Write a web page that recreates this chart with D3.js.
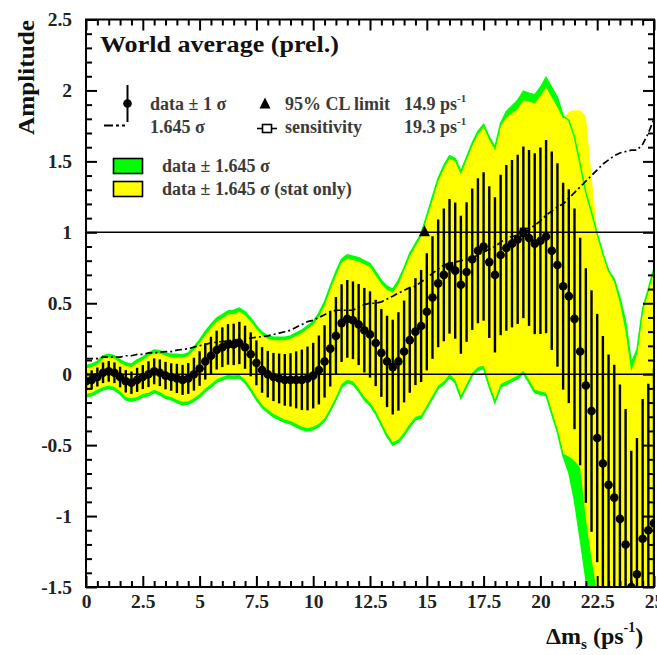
<!DOCTYPE html>
<html>
<head>
<meta charset="utf-8">
<script src="https://cdn.jsdelivr.net/npm/d3@7"></script>
<style>
  html, body { margin: 0; padding: 0; background: #fff; }
  svg { display: block; }
  text { font-family: "Liberation Serif", "Times New Roman", serif; }
</style>
</head>
<body>
<script>
// Oscillation frequency scan points (ps^-1)
const deltaMs = [
  0, 0.25, 0.5, 0.75, 1, 1.25, 1.5, 1.75, 2, 2.25, 2.5, 2.75,
  3, 3.25, 3.5, 3.75, 4, 4.25, 4.5, 4.75, 5, 5.25, 5.5, 5.75,
  6, 6.25, 6.5, 6.75, 7, 7.25, 7.5, 7.75, 8, 8.25, 8.5, 8.75,
  9, 9.25, 9.5, 9.75, 10, 10.25, 10.5, 10.75, 11, 11.25, 11.5, 11.75,
  12, 12.25, 12.5, 12.75, 13, 13.25, 13.5, 13.75, 14, 14.25, 14.5, 14.75,
  15, 15.25, 15.5, 15.75, 16, 16.25, 16.5, 16.75, 17, 17.25, 17.5, 17.75,
  18, 18.25, 18.5, 18.75, 19, 19.25, 19.5, 19.75, 20, 20.25, 20.5, 20.75,
  21, 21.25, 21.5, 21.75, 22, 22.25, 22.5, 22.75, 23, 23.25, 23.5, 23.75,
  24, 24.25, 24.5, 24.75, 25
];

// Measured amplitude at each frequency
const amplitude = [
  -0.05, -0.04, -0.02, 0.01, 0.02, 0.01, -0.02, -0.05,
  -0.06, -0.04, -0.02, 0.00, 0.02, 0.01, -0.01, -0.02,
  -0.03, -0.04, -0.03, 0.00, 0.04, 0.09, 0.13, 0.17,
  0.19, 0.21, 0.21, 0.22, 0.19, 0.14, 0.08, 0.03,
  0.00, -0.02, -0.03, -0.04, -0.04, -0.04, -0.04, -0.03,
  -0.01, 0.03, 0.09, 0.18, 0.27, 0.36, 0.39, 0.38,
  0.35, 0.31, 0.28, 0.22, 0.15, 0.09, 0.05, 0.09,
  0.16, 0.24, 0.30, 0.34, 0.44, 0.54, 0.64, 0.70,
  0.76, 0.73, 0.63, 0.72, 0.81, 0.87, 0.90, 0.79,
  0.70, 0.84, 0.89, 0.92, 0.95, 1.00, 0.96, 0.92,
  0.94, 0.97, 0.87, 0.77, 0.62, 0.55, 0.39, 0.16,
  -0.08, -0.26, -0.45, -0.63, -0.78, -0.87, -1.02, -1.20,
  -1.50, -1.41, -1.16, -1.10, -1.05
];

// Total 1-sigma uncertainty on the amplitude
const sigmaTotal = [
  0.067, 0.067, 0.067, 0.073, 0.073, 0.073, 0.073, 0.079,
  0.079, 0.085, 0.085, 0.091, 0.091, 0.094, 0.097, 0.097,
  0.103, 0.106, 0.109, 0.116, 0.122, 0.128, 0.134, 0.137,
  0.140, 0.143, 0.146, 0.149, 0.152, 0.155, 0.158, 0.161,
  0.164, 0.170, 0.176, 0.182, 0.188, 0.201, 0.213, 0.225,
  0.231, 0.243, 0.255, 0.267, 0.274, 0.274, 0.274, 0.274,
  0.286, 0.298, 0.304, 0.304, 0.310, 0.322, 0.334, 0.347,
  0.359, 0.371, 0.377, 0.395, 0.413, 0.432, 0.450, 0.468,
  0.474, 0.480, 0.486, 0.492, 0.498, 0.511, 0.523, 0.535,
  0.547, 0.565, 0.584, 0.590, 0.596, 0.605, 0.620, 0.638,
  0.657, 0.681, 0.699, 0.717, 0.729, 0.754, 0.778, 0.802,
  0.827, 0.851, 0.875, 0.900, 0.918, 0.936, 0.948, 0.954,
  0.960, 0.960, 0.985, 1.033, 1.094
];

// Statistical-only 1.645 sigma band edges
const statBandUpper = [
  0.04, 0.05, 0.07, 0.11, 0.12, 0.11, 0.08, 0.06,
  0.05, 0.08, 0.10, 0.13, 0.15, 0.145, 0.13, 0.12,
  0.12, 0.115, 0.13, 0.17, 0.22, 0.275, 0.325, 0.37,
  0.395, 0.42, 0.425, 0.44, 0.415, 0.37, 0.32, 0.275,
  0.25, 0.24, 0.24, 0.24, 0.25, 0.27, 0.29, 0.32,
  0.35, 0.405, 0.485, 0.595, 0.695, 0.785, 0.815, 0.805,
  0.795, 0.775, 0.755, 0.695, 0.635, 0.595, 0.575, 0.635,
  0.73, 0.83, 0.90, 0.97, 1.10, 1.23, 1.36, 1.45,
  1.52, 1.50, 1.41, 1.51, 1.61, 1.69, 1.74, 1.65,
  1.58, 1.75, 1.81, 1.84, 1.87, 1.93, 1.92, 1.91,
  1.96, 2.02, 1.95, 1.88, 1.80, 1.85, 1.86, 1.86,
  1.82, 1.40, 1.00, 0.84, 0.72, 0.65, 0.50, 0.30,
  0.02, 0.14, 0.44, 0.58, 0.73
];
const statBandLower = [
  -0.14, -0.13, -0.11, -0.09, -0.08, -0.09, -0.12, -0.16,
  -0.17, -0.16, -0.14, -0.13, -0.11, -0.125, -0.15, -0.16,
  -0.18, -0.195, -0.19, -0.17, -0.14, -0.10, -0.07, -0.035,
  -0.02, -0.005, -0.01, -0.005, -0.04, -0.095, -0.16, -0.215,
  -0.25, -0.28, -0.30, -0.32, -0.33, -0.35, -0.37, -0.38,
  -0.37, -0.35, -0.31, -0.24, -0.16, -0.07, -0.04, -0.05,
  -0.10, -0.16, -0.20, -0.26, -0.34, -0.42, -0.48, -0.46,
  -0.41, -0.35, -0.30, -0.29, -0.22, -0.15, -0.08, -0.05,
  0.00, -0.04, -0.15, -0.07, 0.01, 0.05, 0.06, -0.07,
  -0.18, -0.07, -0.05, -0.03, -0.01, 0.025, -0.04, -0.11,
  -0.12, -0.13, -0.26, -0.39, -0.56, -0.58, -0.61, -0.66,
  -1.02, -1.30, -1.55, -1.90, -2.10, -2.20, -2.30, -2.50,
  -2.80, -2.70, -2.50, -2.50, -2.50
];

const CL95 = 1.645;
const limit95 = 14.9;      // 95% CL lower limit (ps^-1)
const sensitivity = 19.3;  // sensitivity (ps^-1)

const xTickValues = [0, 2.5, 5, 7.5, 10, 12.5, 15, 17.5, 20, 22.5, 25];
const xTickLabels = ["0", "2.5", "5", "7.5", "10", "12.5", "15", "17.5", "20", "22.5", "25"];
const yTickValues = [-1.5, -1, -0.5, 0, 0.5, 1, 1.5, 2, 2.5];
const yTickLabels = ["-1.5", "-1", "-0.5", "0", "0.5", "1", "1.5", "2", "2.5"];

const W = 657, H = 655;
const frame = { left: 86, right: 654, top: 19.5, bottom: 587 };

const svg = d3.select("body").append("svg")
  .attr("width", W).attr("height", H)
  .attr("viewBox", `0 0 ${W} ${H}`);
svg.append("rect").attr("width", W).attr("height", H).attr("fill", "#fff");

const x = d3.scaleLinear().domain([0, 25]).range([frame.left, frame.right]);
const y = d3.scaleLinear().domain([-1.5, 2.5]).range([frame.bottom, frame.top]);

svg.append("defs").append("clipPath").attr("id", "plotClip")
  .append("rect")
  .attr("x", frame.left).attr("y", frame.top)
  .attr("width", frame.right - frame.left).attr("height", frame.bottom - frame.top);

const plot = svg.append("g").attr("clip-path", "url(#plotClip)");
const idx = d3.range(deltaMs.length);

const totUp = i => amplitude[i] + CL95 * sigmaTotal[i];
const totLow = i => amplitude[i] - CL95 * sigmaTotal[i];

// data +- 1.645 sigma (total)
plot.append("path")
  .datum(idx)
  .attr("fill", "#00ff00")
  .attr("d", d3.area().x(i => x(deltaMs[i])).y0(i => y(totLow(i))).y1(i => y(totUp(i))));

// data +- 1.645 sigma (stat only)
plot.append("path")
  .datum(idx)
  .attr("fill", "#ffff00")
  .attr("d", d3.area().x(i => x(deltaMs[i])).y0(i => y(statBandLower[i])).y1(i => y(statBandUpper[i])));

// Outline of the total band
const edge = f => d3.line().x(i => x(deltaMs[i])).y(i => y(f(i)));
plot.append("path").datum(idx).attr("fill", "none").attr("stroke", "#00ff00")
  .attr("stroke-width", 1.6).attr("d", edge(totUp));
plot.append("path").datum(idx).attr("fill", "none").attr("stroke", "#00ff00")
  .attr("stroke-width", 1.6).attr("d", edge(totLow));

// Reference lines at A = 0 and A = 1
[0, 1].forEach(v => {
  plot.append("line")
    .attr("x1", frame.left).attr("x2", frame.right)
    .attr("y1", y(v)).attr("y2", y(v))
    .attr("stroke", "#000").attr("stroke-width", 1.6);
});

// 1.645 sigma curve
plot.append("path").datum(idx)
  .attr("fill", "none").attr("stroke", "#000").attr("stroke-width", 1.7)
  .attr("stroke-dasharray", "7,3,2,3")
  .attr("d", d3.line().x(i => x(deltaMs[i])).y(i => y(CL95 * sigmaTotal[i])));

// Error bars (+-1 sigma)
plot.append("g").selectAll("line").data(idx).join("line")
  .attr("x1", i => x(deltaMs[i])).attr("x2", i => x(deltaMs[i]))
  .attr("y1", i => y(amplitude[i] - sigmaTotal[i]))
  .attr("y2", i => y(amplitude[i] + sigmaTotal[i]))
  .attr("stroke", "#000").attr("stroke-width", 2.4);

// Data points
plot.append("g").selectAll("circle").data(idx).join("circle")
  .attr("cx", i => x(deltaMs[i])).attr("cy", i => y(amplitude[i]))
  .attr("r", 4.3).attr("fill", "#000");

// 95% CL limit marker
const tri = (cx, cy, s) => `M${cx},${cy - s * 0.55}L${cx + s * 0.5},${cy + s * 0.45}L${cx - s * 0.5},${cy + s * 0.45}Z`;
plot.append("path").attr("d", tri(x(limit95), y(1) - 1, 11)).attr("fill", "#000");

// Sensitivity marker
plot.append("rect")
  .attr("x", x(sensitivity) - 4).attr("y", y(1) - 4)
  .attr("width", 8).attr("height", 8)
  .attr("fill", "none").attr("stroke", "#000").attr("stroke-width", 1.5);

// Axes: frame with inward major and minor ticks
const axes = svg.append("g");
const xMinor = d3.range(0, 25.001, 0.5).filter(v => !xTickValues.some(t => Math.abs(t - v) < 1e-6));
const yMinor = d3.range(-15, 25.001, 1).map(v => v / 10).filter(v => !yTickValues.some(t => Math.abs(t - v) < 1e-6));

function styleAxis(g) {
  g.select(".domain").remove();
  g.selectAll(".tick line").attr("stroke", "#000").attr("stroke-width", 2);
}

const fmtX = d => xTickLabels[xTickValues.indexOf(d)];
const fmtY = d => yTickLabels[yTickValues.indexOf(d)];
const styleLabels = g => g.selectAll("text").attr("font-size", 19.5).attr("font-weight", "bold")
  .attr("fill", "#222").attr("font-family", "'Liberation Serif', serif");

axes.append("g").attr("transform", `translate(0,${frame.bottom})`)
  .call(d3.axisBottom(x).tickValues(xTickValues).tickFormat(fmtX).tickSizeInner(-11).tickSizeOuter(0).tickPadding(7))
  .call(styleAxis)
  .call(styleLabels);
axes.append("g").attr("transform", `translate(0,${frame.bottom})`)
  .call(d3.axisBottom(x).tickValues(xMinor).tickFormat("").tickSizeInner(-6).tickSizeOuter(0))
  .call(styleAxis);

axes.append("g").attr("transform", `translate(0,${frame.top})`)
  .call(d3.axisTop(x).tickValues(xTickValues).tickFormat("").tickSizeInner(-11).tickSizeOuter(0))
  .call(styleAxis);
axes.append("g").attr("transform", `translate(0,${frame.top})`)
  .call(d3.axisTop(x).tickValues(xMinor).tickFormat("").tickSizeInner(-6).tickSizeOuter(0))
  .call(styleAxis);

axes.append("g").attr("transform", `translate(${frame.left},0)`)
  .call(d3.axisLeft(y).tickValues(yTickValues).tickFormat(fmtY).tickSizeInner(-11).tickSizeOuter(0).tickPadding(14))
  .call(styleAxis)
  .call(styleLabels);
axes.append("g").attr("transform", `translate(${frame.left},0)`)
  .call(d3.axisLeft(y).tickValues(yMinor).tickFormat("").tickSizeInner(-6).tickSizeOuter(0))
  .call(styleAxis);

axes.append("g").attr("transform", `translate(${frame.right},0)`)
  .call(d3.axisRight(y).tickValues(yTickValues).tickFormat("").tickSizeInner(-11).tickSizeOuter(0))
  .call(styleAxis);
axes.append("g").attr("transform", `translate(${frame.right},0)`)
  .call(d3.axisRight(y).tickValues(yMinor).tickFormat("").tickSizeInner(-6).tickSizeOuter(0))
  .call(styleAxis);

axes.append("rect")
  .attr("x", frame.left).attr("y", frame.top)
  .attr("width", frame.right - frame.left).attr("height", frame.bottom - frame.top)
  .attr("fill", "none").attr("stroke", "#000").attr("stroke-width", 2);

// Axis titles
svg.append("text")
  .attr("transform", "translate(33.5,77.5) rotate(-90)")
  .attr("text-anchor", "middle")
  .attr("font-size", 24).attr("font-weight", "bold").attr("fill", "#111")
  .attr("textLength", 115).attr("lengthAdjust", "spacingAndGlyphs")
  .text("Amplitude");

const xt = svg.append("text").attr("x", 546).attr("y", 644)
  .attr("font-size", 24).attr("font-weight", "bold").attr("fill", "#111");
xt.append("tspan").text("Δm");
xt.append("tspan").attr("font-size", 15).attr("dy", 5).text("s");
xt.append("tspan").attr("dy", -5).text(" (ps");
xt.append("tspan").attr("font-size", 14).attr("dy", -12).text("-1");
xt.append("tspan").attr("dy", 12).text(")");

// Title
svg.append("text").attr("x", 100).attr("y", 52)
  .attr("font-size", 24).attr("font-weight", "bold").attr("fill", "#111")
  .attr("textLength", 239).attr("lengthAdjust", "spacingAndGlyphs")
  .text("World average (prel.)");

// Legend
const leg = svg.append("g").attr("font-size", 18).attr("font-weight", "bold").attr("fill", "#3a3a3a");

leg.append("line").attr("x1", 127.5).attr("x2", 127.5).attr("y1", 85).attr("y2", 122)
  .attr("stroke", "#000").attr("stroke-width", 2);
leg.append("circle").attr("cx", 127.5).attr("cy", 103.5).attr("r", 4.3).attr("fill", "#000");
leg.append("text").attr("x", 150).attr("y", 110).text("data ± 1 σ");

leg.append("line").attr("x1", 104).attr("x2", 128).attr("y1", 125.5).attr("y2", 125.5)
  .attr("stroke", "#000").attr("stroke-width", 2).attr("stroke-dasharray", "9,3,3,3,3");
leg.append("text").attr("x", 150).attr("y", 133).text("1.645 σ");

leg.append("path").attr("d", tri(265, 103.5, 11)).attr("fill", "#000");
leg.append("text").attr("x", 285).attr("y", 110).text("95% CL limit");
const v1 = leg.append("text").attr("x", 404).attr("y", 110);
v1.append("tspan").text(`${limit95} ps`);
v1.append("tspan").attr("font-size", 11).attr("dy", -8).text("-1");

leg.append("line").attr("x1", 257).attr("x2", 277).attr("y1", 128.5).attr("y2", 128.5)
  .attr("stroke", "#000").attr("stroke-width", 1.6);
leg.append("rect").attr("x", 262.5).attr("y", 124.5).attr("width", 9).attr("height", 8)
  .attr("fill", "#fff").attr("stroke", "#000").attr("stroke-width", 1.6);
leg.append("text").attr("x", 285).attr("y", 133).text("sensitivity");
const v2 = leg.append("text").attr("x", 404).attr("y", 133);
v2.append("tspan").text(`${sensitivity} ps`);
v2.append("tspan").attr("font-size", 11).attr("dy", -8).text("-1");

leg.append("rect").attr("x", 113.5).attr("y", 158.5).attr("width", 29).attr("height", 15)
  .attr("fill", "#00ff00").attr("stroke", "#000").attr("stroke-width", 1.6);
leg.append("text").attr("x", 162).attr("y", 172).text("data ± 1.645 σ");

leg.append("rect").attr("x", 113.5).attr("y", 181.5).attr("width", 29).attr("height", 15)
  .attr("fill", "#ffff00").attr("stroke", "#000").attr("stroke-width", 1.6);
leg.append("text").attr("x", 162).attr("y", 194.5).text("data ± 1.645 σ (stat only)");
</script>
</body>
</html>
